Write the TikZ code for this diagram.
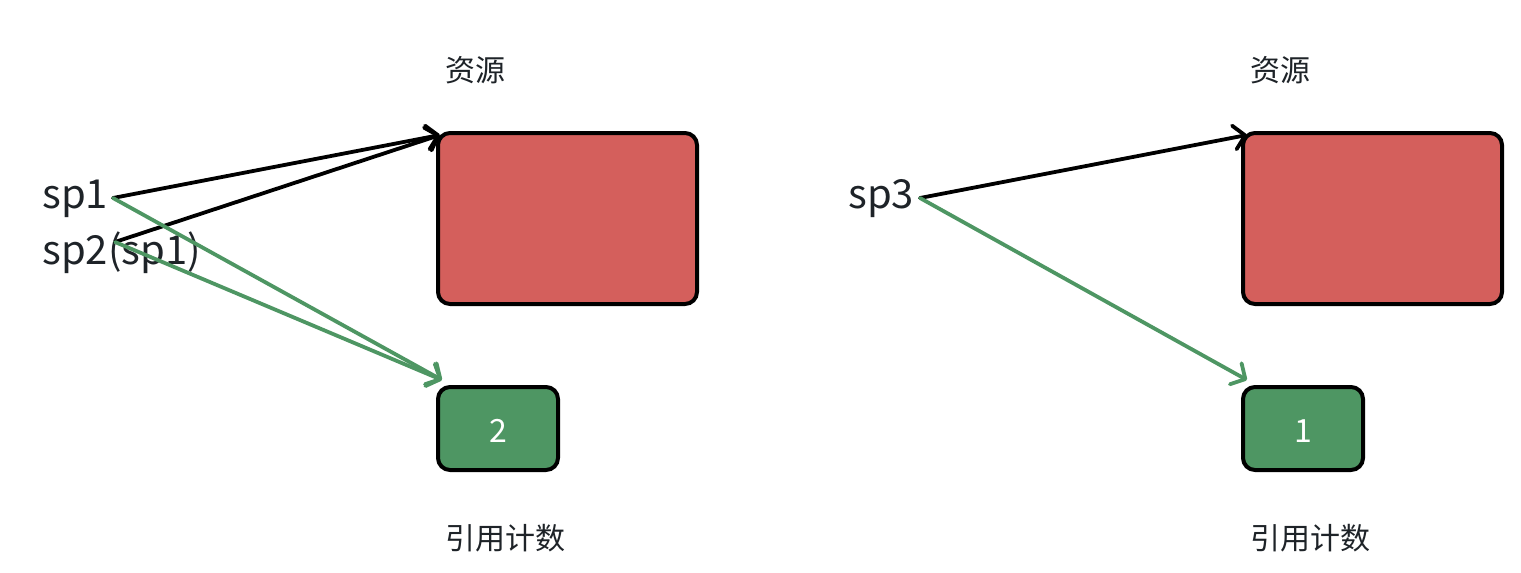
\documentclass[tikz,border=0pt]{standalone}
\usepackage{fontspec}
\setmainfont{Noto Sans CJK SC}
\usetikzlibrary{arrows.meta}
\definecolor{resred}{HTML}{D45F5C}
\definecolor{cntgreen}{HTML}{4E9663}
\definecolor{txt}{HTML}{1E2328}
\tikzset{
  resbox/.style={draw=black, line width=2pt, rounded corners=6pt, fill=resred, minimum width=129.5pt, minimum height=85.5pt, inner sep=0pt},
  cntbox/.style={draw=black, line width=2pt, rounded corners=6pt, fill=cntgreen, text=white, font=\fontsize{16}{18}\selectfont, minimum width=60pt, minimum height=41.5pt, inner sep=0pt, text depth=0pt},
  captext/.style={text=txt, font=\fontsize{15}{18}\selectfont, inner sep=0pt},
  ptrtext/.style={text=txt, font=\fontsize{20}{24}\selectfont, inner sep=0pt, anchor=base west},
  blk/.style={draw=black, line width=1.9pt, line cap=round, -{Straight Barb[length=5.5pt,width=12pt,round]}},
  grn/.style={draw=cntgreen, line width=1.9pt, line cap=round, -{Straight Barb[length=5.5pt,width=12pt,round]}},
}
\begin{document}
\begin{tikzpicture}[x=0.5pt,y=-0.5pt]
\useasboundingbox (0,0) rectangle (1521,573);
% left group
\node[resbox] (r1) at (567.5,218.5) {};
\node[cntbox] (g1) at (498,428.5) {\raisebox{-2.5pt}{2}};
\node[captext] (lr1) at (475,70) {资源};
\node[captext] (lc1) at (505,538) {引用计数};
\node[ptrtext] (sp1) at (42,208) {sp1};
\node[ptrtext] (sp2) at (42,264) {sp2(sp1)};
\coordinate (a1) at (113,198);
\coordinate (a2) at (115,242);
\coordinate (t1) at (440,135);
\coordinate (u1) at (442,380);
\draw[blk] (a1) -- (t1);
\draw[blk] (a2) -- (t1);
\draw[grn] (a1) -- (u1);
\draw[grn] (a2) -- (u1);
% right group
\node[resbox] (r2) at (1372.5,218.5) {};
\node[cntbox] (g2) at (1303,428.5) {\raisebox{-2.5pt}{1}};
\node[captext] (lr2) at (1280,70) {资源};
\node[captext] (lc2) at (1310,538) {引用计数};
\node[ptrtext] (sp3) at (848,208) {sp3};
\coordinate (a3) at (920,198);
\coordinate (t2) at (1247,135);
\coordinate (u2) at (1247,380);
\draw[blk] (a3) -- (t2);
\draw[grn] (a3) -- (u2);
\end{tikzpicture}
\end{document}
